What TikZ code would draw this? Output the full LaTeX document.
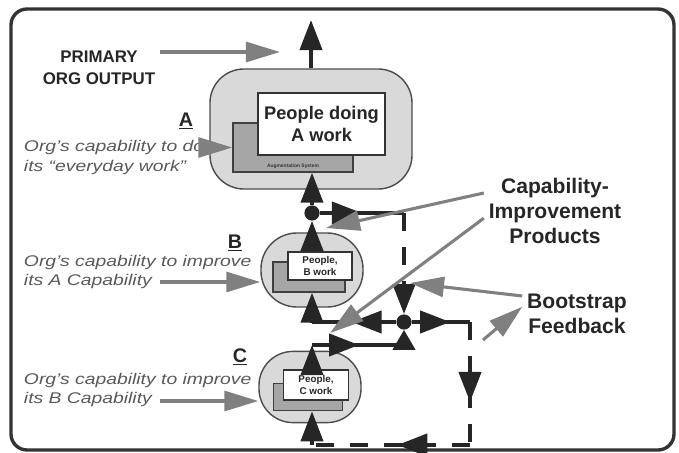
\documentclass[tikz,border=0pt]{standalone}
\usepackage{fontspec}
\setmainfont{Liberation Sans}
\newfontfamily\widefont[FakeStretch=1.25, Ligatures=TeX]{Liberation Sans}
\usetikzlibrary{positioning, arrows.meta, calc, decorations.markings}

\begin{document}
\begin{tikzpicture}[x=0.025cm, y=-0.025cm,
    bigarrow/.style={-{Triangle[length=7.5mm, width=5.5mm]}, line width=2.8pt, black!85},
    flowline/.style={line width=2.8pt, black!85},
    dashline/.style={line width=3pt, black!85, dash pattern=on 4.5mm off 4mm},
    midarrow/.style={postaction={decorate}, decoration={markings,
        mark=at position #1 with {\arrow{Triangle[length=7.5mm, width=5.5mm]}}}},
    grayarrow/.style={-{Triangle[length=8.5mm, width=5mm]}, line width=2.2pt, black!50},
    outerbox/.style={draw=black!70, line width=1pt, fill=black!15},
    augbox/.style={draw=black!75, line width=1pt, fill=black!35},
    peoplebox/.style={draw=black!80, line width=1pt, fill=white, align=center, text=black!85},
    dotnode/.style={circle, fill=black!85, inner sep=0pt, minimum size=3.8mm},
    heading/.style={font=\bfseries\fontsize{12}{15.6}\selectfont, align=center, text=black!85},
    bighead/.style={font=\bfseries\fontsize{15}{17.8}\selectfont, align=center, text=black!85},
    levelmark/.style={font=\bfseries\fontsize{14}{16}\selectfont, text=black!85},
    capnote/.style={font=\widefont\itshape\fontsize{11}{14}\selectfont, align=left, anchor=west, text=black!65}
]
    \useasboundingbox (0,0) rectangle (679,453);

    % Frame
    \draw[black!80, line width=2.4pt, rounded corners=0.4cm] (11,9) rectangle (674,450);

    % A level
    \node[outerbox, rounded corners=0.85cm, minimum width=5.05cm, minimum height=3cm] (capA) at (311,129) {};
    \node[augbox, minimum width=3cm, minimum height=1.225cm] (augA) at (293,147.5) {};
    \node[font=\bfseries\fontsize{3.5}{4}\selectfont, text=black!80] (augAtext) at (293,166) {Augmentation System};
    \node[peoplebox, minimum width=3.175cm, minimum height=1.55cm, font=\bfseries\fontsize{13}{15.6}\selectfont] (peopleA) at (321.5,124) {People doing\\A work};

    % B level
    \node[outerbox, rounded corners=0.9cm, minimum width=2.55cm, minimum height=1.85cm] (capB) at (312,270) {};
    \node[augbox, minimum width=1.8cm, minimum height=0.75cm] (augB) at (309,277) {};
    \node[peoplebox, minimum width=1.6cm, minimum height=0.7cm, inner sep=1pt, font=\bfseries\fontsize{7}{8}\selectfont] (peopleB) at (320,266) {People,\\B work};

    % C level
    \node[outerbox, rounded corners=0.85cm, minimum width=2.55cm, minimum height=1.78cm] (capC) at (310,387) {};
    \node[augbox, minimum width=1.72cm, minimum height=0.68cm] (augC) at (308,397) {};
    \node[peoplebox, minimum width=1.62cm, minimum height=0.75cm, inner sep=1pt, font=\bfseries\fontsize{7}{8}\selectfont] (peopleC) at (316,385) {People,\\C work};

    % Labels
    \node[heading] (primary) at (99,68) {PRIMARY\\ORG OUTPUT};
    \node[levelmark] (markA) at (186,121) {\underline{A}};
    \node[levelmark] (markB) at (235,243) {\underline{B}};
    \node[levelmark] (markC) at (240,357) {\underline{C}};
    \node[capnote] (noteA) at (19,157.5) {Org's capability to do\\its ``everyday work''};
    \node[capnote] (noteB) at (19,272) {Org's capability to improve\\its A Capability};
    \node[capnote] (noteC) at (19,390) {Org's capability to improve\\its B Capability};
    \node[bighead] (capprod) at (555,211) {Capability-\\Improvement\\Products};
    \node[bighead] (boot) at (577,314) {Bootstrap\\Feedback};

    % Junctions and bends
    \coordinate (outA) at (311,20);
    \node[dotnode] (splitB) at (312,213) {};
    \coordinate (bendB) at (404,213);
    \node[dotnode] (hub) at (404,322) {};
    \coordinate (underB) at (312,322);
    \coordinate (overC) at (312,345);
    \coordinate (sideC) at (404,345);
    \coordinate (fbTop) at (470,322);
    \coordinate (fbBot) at (470,445);
    \coordinate (underC) at (312,445);

    % Black flow
    \draw[bigarrow] (capA.north) -- (outA);
    \draw[bigarrow] (peopleB.north -| splitB) -- (splitB);
    \draw[bigarrow] (splitB) -- (splitB |- augA.south);
    \draw[flowline, midarrow=0.5] (splitB) -- (bendB);
    \draw[dashline, -{Triangle[length=7.5mm, width=5.5mm]}] (bendB) -- (hub);
    \draw[flowline, midarrow=0.53] (hub) -- (underB);
    \draw[bigarrow] (underB) -- (underB |- augB.south);
    \draw[bigarrow] (peopleC.north -| overC) -- (overC);
    \draw[flowline, midarrow=0.44, -{Triangle[length=5mm, width=5.5mm]}] (overC) -- (sideC) -- (hub);
    \draw[flowline, midarrow=0.66] (hub) -- (fbTop);
    \draw[dashline, midarrow=0.65] (fbTop) -- (fbBot);
    \draw[dashline, midarrow=0.46] (fbBot) -- (underC);
    \draw[bigarrow] (underC) -- (underC |- augC.south);

    % Gray pointers
    \coordinate (primTip) at (280,52);
    \coordinate (bTail) at (160,282);
    \coordinate (cTail) at (160,401);
    \coordinate (capTipB) at (326,228);
    \coordinate (capTipC) at (330,333);
    \coordinate (bootTip) at (410,283);
    \coordinate (bootTail) at (483,340);
    \draw[grayarrow] (primary.east |- primTip) -- (primTip);
    \draw[grayarrow] (noteA.east |- augA.west) -- (augA.west);
    \draw[grayarrow] (bTail) -- (bTail -| capB.west);
    \draw[grayarrow] (cTail) -- (cTail -| capC.west);
    \draw[grayarrow] ([yshift=0.45cm]capprod.west) -- (capTipB);
    \draw[grayarrow] ([yshift=-0.18cm]capprod.west) -- (capTipC);
    \draw[grayarrow] ([yshift=0.45cm]boot.west) -- (bootTip);
    \draw[grayarrow] (bootTail) -- ([yshift=0.18cm]boot.west);
\end{tikzpicture}
\end{document}
